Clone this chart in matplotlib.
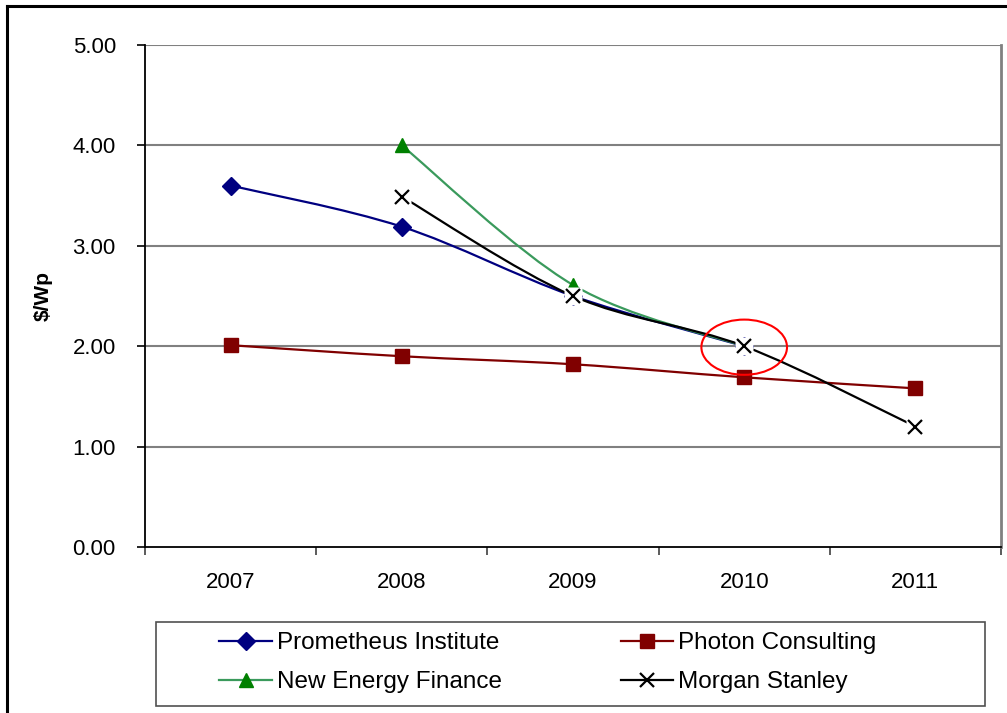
import numpy as np
import matplotlib
matplotlib.use("Agg")
import matplotlib.pyplot as plt
from matplotlib.path import Path
from matplotlib.patches import PathPatch, Ellipse, Rectangle
from matplotlib.lines import Line2D

plt.rcParams['font.family'] = ['Liberation Sans', 'DejaVu Sans']

# data
years = ["2007", "2008", "2009", "2010", "2011"]
prometheus_x = [0, 1, 2, 3]
prometheus_y = [3.60, 3.19, 2.50, 2.00]
photon_x = [0, 1, 2, 3, 4]
photon_y = [2.01, 1.90, 1.82, 1.69, 1.58]
nef_x = [1, 2, 3]
nef_y = [4.00, 2.61, 2.00]
morgan_x = [1, 2, 3, 4]
morgan_y = [3.49, 2.50, 2.00, 1.20]
yticks = [0, 1, 2, 3, 4, 5]


def smooth_path(xs, ys):
    # excel style smoothed line: cubic bezier through every point
    p = np.column_stack([xs, ys]).astype(float)
    pts = np.vstack([p[0], p, p[-1]])
    verts = [p[0]]
    codes = [Path.MOVETO]
    for i in range(1, len(pts) - 2):
        c1 = pts[i] + (pts[i + 1] - pts[i - 1]) / 6.0
        c2 = pts[i + 1] - (pts[i + 2] - pts[i]) / 6.0
        verts += [c1, c2, pts[i + 1]]
        codes += [Path.CURVE4] * 3
    return Path(verts, codes)


fig = plt.figure(figsize=[10.07, 7.13], dpi=100)
ax = fig.add_axes([145/1007, 1-547/713, 856/1007, 502/713])

ax.set_xlim(-0.5, 4.5)
ax.set_ylim(0, 5)
ax.set_yticks(yticks)
ax.set_yticklabels(["%.2f" % v for v in yticks], fontsize=16)
ax.set_xticks(range(len(years)))
ax.set_xticklabels(years, fontsize=16)
ax.set_xticks(np.arange(-0.5, 4.6, 1.0), minor=True)
ax.tick_params(axis='x', which='major', length=0, pad=18)
ax.tick_params(axis='x', which='minor', length=6, width=1.2, color='#404040')
ax.tick_params(axis='y', length=6, width=1.2, pad=15)
ax.set_ylabel("$/Wp", fontsize=15, fontweight='bold', labelpad=14)

for v in yticks[1:]:
    ax.axhline(v, color='#808080', lw=1.5, zorder=1)
ax.spines['top'].set_visible(False)
ax.spines['right'].set_color('#808080')
ax.spines['right'].set_linewidth(2)
ax.spines['left'].set_linewidth(1.3)
ax.spines['bottom'].set_linewidth(1.3)

series = [
    (prometheus_x, prometheus_y, '#000080', '#000080', 'D', 9.5, "Prometheus Institute"),
    (photon_x, photon_y, '#800000', '#800000', 's', 10.5, "Photon Consulting"),
    (nef_x, nef_y, '#3a9a5c', '#008000', '^', 10.5, "New Energy Finance"),
    (morgan_x, morgan_y, 'black', 'black', 'x', 9.5, "Morgan Stanley"),
]

handles = []
z = 3
for xs, ys, lc, mc, mk, ms, name in series:
    ax.add_patch(PathPatch(smooth_path(xs, ys), fill=False, edgecolor=lc, lw=1.6, zorder=z))
    if mk == 'x':
        # white background behind the x markers, like excel
        ax.plot(xs, ys, ls='none', marker='s', ms=13, mfc='white', mec='none', zorder=z + 1)
        ax.plot(xs, ys, ls='none', marker='x', ms=ms, mec=mc, mew=1.6, zorder=z + 2)
    else:
        ax.plot(xs, ys, ls='none', marker=mk, ms=ms, mfc=mc, mec=mc, zorder=z + 1)
    handles.append(Line2D([], [], color=lc, lw=1.6, marker=mk, ms=ms, mfc=mc, mec=mc,
                          mew=1.6 if mk == 'x' else 1))
    z += 3

# red circle drawn around the 2010 point
ax.add_patch(Ellipse((3, 1.99), 0.5, 0.55, fill=False, edgecolor='red', lw=1.5, zorder=20))

# legend box
fig.add_artist(Rectangle((156/1007, 1-706/713), 829/1007, 84/713, transform=fig.transFigure,
                         fill=False, edgecolor='#505050', lw=1.2))
fig.legend(handles=[handles[0], handles[2], handles[1], handles[3]],
           labels=[series[0][6], series[2][6], series[1][6], series[3][6]],
           ncol=2, frameon=False, fontsize=17.5, loc='upper left',
           bbox_to_anchor=(200/1007, 1-613/713), handlelength=2.15, handletextpad=0.2,
           columnspacing=4.9, labelspacing=0.7, borderpad=0.3)

# outer chart frame
fig.add_artist(Line2D([7/1007, 7/1007], [0, 1-6/713], color='black', lw=2.2))
fig.add_artist(Line2D([7/1007, 1], [1-6/713, 1-6/713], color='black', lw=2.2))

fig.savefig("out.png", dpi=100)
